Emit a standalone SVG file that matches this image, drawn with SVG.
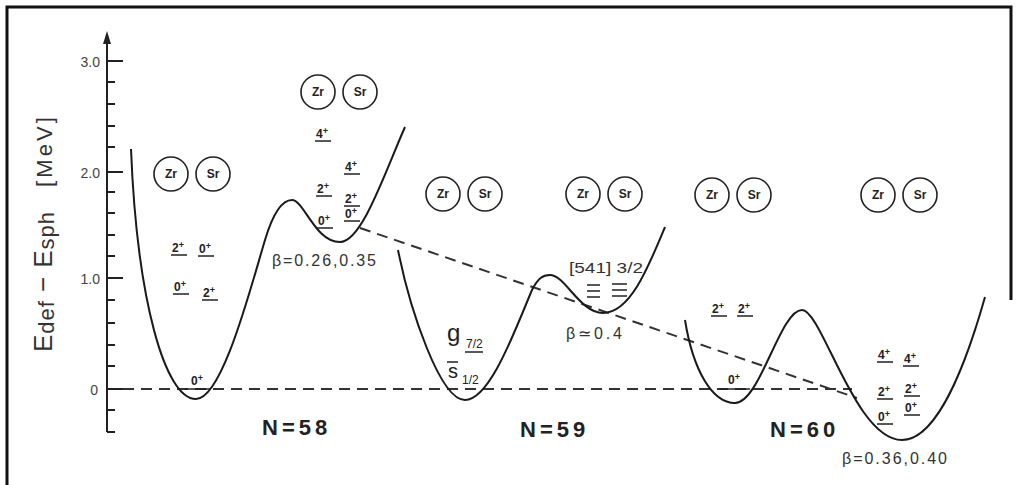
<svg xmlns="http://www.w3.org/2000/svg" width="1018" height="485" viewBox="0 0 1018 485">
<style>
.frame{fill:none;stroke:#111;stroke-width:3}
.axis{fill:none;stroke:#222;stroke-width:2}
.curve{fill:none;stroke:#1a1a1a;stroke-width:2}
.dash{fill:none;stroke:#333;stroke-width:2;stroke-dasharray:11 7}
.lvl{stroke:#222;stroke-width:1.5}
.lv{font-family:"Liberation Sans",Arial,sans-serif;font-size:12px;font-weight:bold;fill:#222}
.orb{font-family:"Liberation Sans",Arial,sans-serif;fill:#222}
.tick{font-family:"Liberation Sans",Arial,sans-serif;font-size:14px;fill:#444;text-anchor:end}
.nuc circle{fill:#fff;stroke:#222;stroke-width:1.6}
.nuc text{font-family:"Liberation Sans",Arial,sans-serif;font-size:12px;font-weight:bold;fill:#222;text-anchor:middle}
.nlab{font-family:"Liberation Sans",Arial,sans-serif;font-size:22px;font-weight:bold;fill:#222;letter-spacing:4px}
.beta{font-family:"Liberation Sans",Arial,sans-serif;font-size:16px;fill:#333}
.ylab{font-family:"Liberation Sans",Arial,sans-serif;font-size:26px;fill:#333}
</style>
<rect width="1018" height="485" fill="#fff"/>
<path class="frame" d="M7,485 V7 H1011 V300"/>

<g id="axis">
<line class="axis" x1="107" y1="432" x2="107" y2="40"/>
<path d="M103,44 L107,31 L111,44 Z" fill="#222"/>
<path class="axis" d="M107,61H123 M107,172H123 M107,278H123 M107,389H123 M107,82H115 M107,104H115 M107,126H115 M107,147H115 M107,192H115 M107,213H115 M107,235H115 M107,256H115 M107,300H115 M107,323H115 M107,345H115 M107,366H115 M107,410H115 M107,432H115"/>
<text class="tick" x="100" y="67">3.0</text>
<text class="tick" x="100" y="178">2.0</text>
<text class="tick" x="100" y="284">1.0</text>
<text class="tick" x="98" y="395">0</text>
<text class="ylab" transform="translate(52,352) rotate(-90)" textLength="140" lengthAdjust="spacing">E<tspan font-size="22" dy="2">def</tspan><tspan dy="-2"> − E</tspan><tspan font-size="22" dy="2">sph</tspan></text>
<text class="ylab" transform="translate(52,187) rotate(-90)" style="font-size:22px" textLength="70" lengthAdjust="spacing">[MeV]</text>
</g>

<g id="connectors">
<line class="dash" x1="123" y1="389" x2="852" y2="389"/>
<line class="dash" x1="360" y1="228" x2="857" y2="398"/>
</g>

<g id="n58">
<path class="curve" d="M131,149 C137,300 165,399 196,399 C222,399 250,290 265,240 C271,220 280,200 292,200 C304,200 315,242 340,242 C362,242 385,172 405,127"/>
<text class="nlab" x="262" y="435">N=58</text>
<text class="beta" x="272" y="266" textLength="104" lengthAdjust="spacing">β=0.26,0.35</text>
<g class="nuc"><circle cx="171" cy="174" r="17"/><text x="171" y="178">Zr</text><circle cx="213" cy="174" r="17"/><text x="213" y="178">Sr</text></g>
<g class="nuc"><circle cx="318" cy="92" r="17"/><text x="318" y="96">Zr</text><circle cx="360" cy="92" r="17"/><text x="360" y="96">Sr</text></g>
<g class="lv">
<text x="172" y="252">2<tspan font-size="9" dy="-4">+</tspan></text><line class="lvl" x1="171" y1="255" x2="187" y2="255"/>
<text x="199" y="253">0<tspan font-size="9" dy="-4">+</tspan></text><line class="lvl" x1="198" y1="256" x2="214" y2="256"/>
<text x="174" y="291">0<tspan font-size="9" dy="-4">+</tspan></text><line class="lvl" x1="173" y1="294" x2="189" y2="294"/>
<text x="203" y="297">2<tspan font-size="9" dy="-4">+</tspan></text><line class="lvl" x1="202" y1="300" x2="218" y2="300"/>
<text x="191" y="385">0<tspan font-size="9" dy="-4">+</tspan></text><line class="lvl" x1="185" y1="389" x2="210" y2="389"/>
<text x="316" y="138">4<tspan font-size="9" dy="-4">+</tspan></text><line class="lvl" x1="315" y1="141" x2="331" y2="141"/>
<text x="345" y="171">4<tspan font-size="9" dy="-4">+</tspan></text><line class="lvl" x1="344" y1="174" x2="360" y2="174"/>
<text x="317" y="193">2<tspan font-size="9" dy="-4">+</tspan></text><line class="lvl" x1="316" y1="196" x2="332" y2="196"/>
<text x="345" y="203">2<tspan font-size="9" dy="-4">+</tspan></text><line class="lvl" x1="344" y1="206" x2="360" y2="206"/>
<text x="318" y="225">0<tspan font-size="9" dy="-4">+</tspan></text><line class="lvl" x1="317" y1="228" x2="333" y2="228"/>
<text x="345" y="218">0<tspan font-size="9" dy="-4">+</tspan></text><line class="lvl" x1="344" y1="221" x2="360" y2="221"/>
</g>
</g>

<g id="n59">
<path class="curve" d="M398,250 C410,310 440,400 465,400 C490,400 515,330 532,290 C538,278 543,275 550,275 C565,275 580,313 603,313 C630,313 648,268 665,227"/>
<text class="nlab" x="520" y="437">N=59</text>
<g class="nuc"><circle cx="443" cy="194" r="17"/><text x="443" y="198">Zr</text><circle cx="485" cy="194" r="17"/><text x="485" y="198">Sr</text></g>
<g class="nuc"><circle cx="583" cy="194" r="17"/><text x="583" y="198">Zr</text><circle cx="625" cy="194" r="17"/><text x="625" y="198">Sr</text></g>
<g class="orb">
<text x="447" y="341" style="font-size:24px">g</text>
<text x="466" y="348" style="font-size:12px">7/2</text>
<line class="lvl" x1="465" y1="352" x2="483" y2="352"/>
<line class="lvl" x1="447" y1="362" x2="458" y2="362"/>
<text x="448" y="378" style="font-size:20px">s</text>
<text x="462" y="384" style="font-size:12px">1/2</text>
<text x="569" y="273" style="font-size:14px;fill:#333" textLength="74" lengthAdjust="spacingAndGlyphs">[541] 3/2</text>
<path class="lvl" d="M587,285H600 M587,291H600 M587,297H600 M612,284H627 M612,290H627 M612,296H627"/>
</g>
<text class="beta" x="566" y="339" textLength="56" lengthAdjust="spacing">β≃0.4</text>
</g>

<g id="n60">
<path class="curve" d="M685,320 C693,370 712,403 735,403 C760,403 780,310 802,310 C822,310 855,440 902,440 C940,440 970,350 985,297"/>
<text class="nlab" x="770" y="437">N=60</text>
<text class="beta" x="842" y="464" textLength="105" lengthAdjust="spacing">β=0.36,0.40</text>
<g class="nuc"><circle cx="712" cy="195" r="17"/><text x="712" y="199">Zr</text><circle cx="754" cy="195" r="17"/><text x="754" y="199">Sr</text></g>
<g class="nuc"><circle cx="878" cy="195" r="17"/><text x="878" y="199">Zr</text><circle cx="920" cy="195" r="17"/><text x="920" y="199">Sr</text></g>
<g class="lv">
<text x="712" y="313">2<tspan font-size="9" dy="-4">+</tspan></text><line class="lvl" x1="711" y1="316" x2="727" y2="316"/>
<text x="738" y="313">2<tspan font-size="9" dy="-4">+</tspan></text><line class="lvl" x1="737" y1="316" x2="753" y2="316"/>
<text x="728" y="384">0<tspan font-size="9" dy="-4">+</tspan></text><line class="lvl" x1="720" y1="389" x2="750" y2="389"/>
<text x="878" y="359">4<tspan font-size="9" dy="-4">+</tspan></text><line class="lvl" x1="877" y1="362" x2="893" y2="362"/>
<text x="904" y="363">4<tspan font-size="9" dy="-4">+</tspan></text><line class="lvl" x1="903" y1="366" x2="919" y2="366"/>
<text x="878" y="396">2<tspan font-size="9" dy="-4">+</tspan></text><line class="lvl" x1="877" y1="399" x2="893" y2="399"/>
<text x="905" y="393">2<tspan font-size="9" dy="-4">+</tspan></text><line class="lvl" x1="904" y1="396" x2="920" y2="396"/>
<text x="878" y="421">0<tspan font-size="9" dy="-4">+</tspan></text><line class="lvl" x1="877" y1="424" x2="893" y2="424"/>
<text x="905" y="412">0<tspan font-size="9" dy="-4">+</tspan></text><line class="lvl" x1="904" y1="415" x2="920" y2="415"/>
</g>
</g>
</svg>
